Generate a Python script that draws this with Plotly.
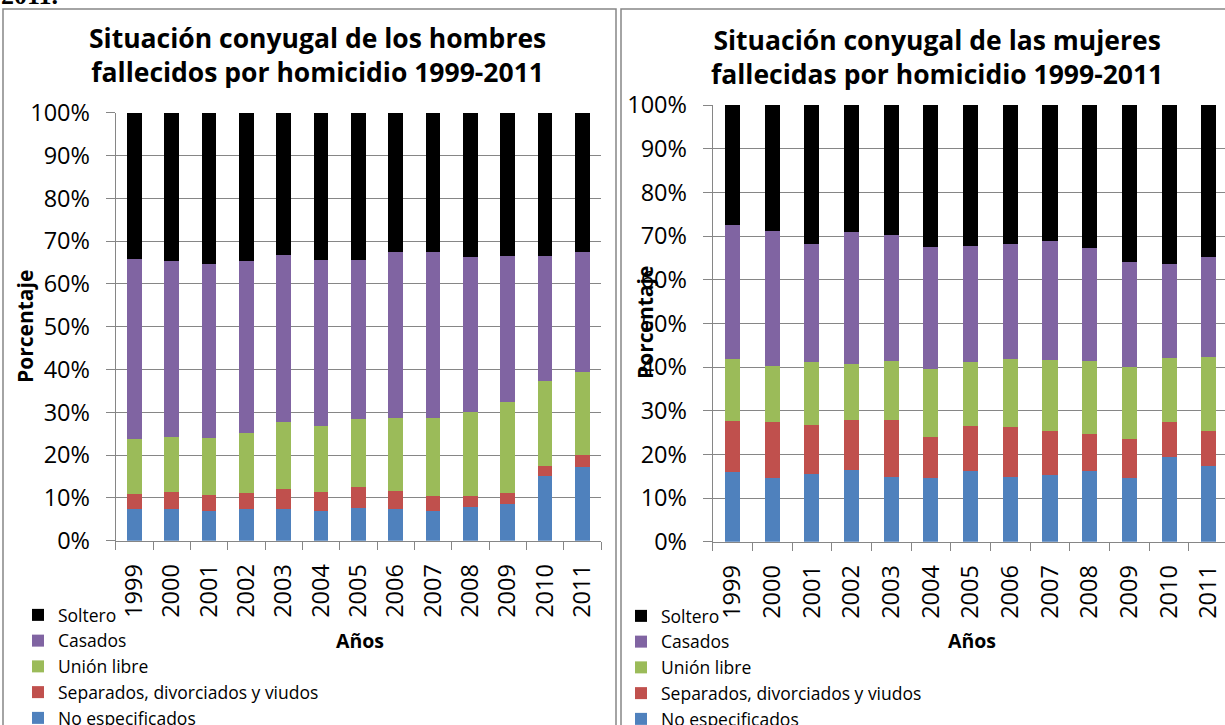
import plotly.graph_objects as go

W, H = 1225, 725

years = ["1999", "2000", "2001", "2002", "2003", "2004", "2005",
         "2006", "2007", "2008", "2009", "2010", "2011"]
series_names = ["No especificados", "Separados, divorciados y viudos",
                "Unión libre", "Casados", "Soltero"]
colors = ["#4F81BD", "#C0504D", "#9BBB59", "#8064A2", "#000000"]

# Hombres (%)
men_no_esp = [7.3, 7.3, 6.9, 7.3, 7.5, 7.0, 7.6, 7.3, 6.9, 7.8, 8.6, 15.0, 17.2]
men_separados = [3.6, 4.1, 3.8, 3.8, 4.6, 4.3, 4.9, 4.4, 3.5, 2.7, 2.5, 2.5, 2.8]
men_union = [12.8, 12.8, 13.3, 14.1, 15.6, 15.6, 16.0, 17.0, 18.2, 19.5, 21.3, 19.8, 19.3]
men_casados = [42.1, 41.1, 40.6, 40.2, 39.1, 38.6, 37.1, 38.8, 38.8, 36.3, 34.1, 29.2, 28.1]
men_soltero = [34.2, 34.7, 35.4, 34.6, 33.2, 34.5, 34.4, 32.5, 32.6, 33.7, 33.5, 33.5, 32.6]

# Mujeres (%)
wom_no_esp = [15.9, 14.7, 15.4, 16.4, 14.9, 14.6, 16.3, 14.9, 15.3, 16.3, 14.6, 19.5, 17.4]
wom_separados = [11.7, 12.7, 11.3, 11.5, 13.0, 9.4, 10.3, 11.3, 10.1, 8.4, 9.0, 7.8, 8.0]
wom_union = [14.3, 12.9, 14.4, 12.9, 13.5, 15.5, 14.5, 15.6, 16.1, 16.7, 16.4, 14.8, 16.8]
wom_casados = [30.7, 30.8, 27.0, 30.2, 28.8, 28.0, 26.5, 26.4, 27.4, 25.9, 24.0, 21.5, 23.1]
wom_soltero = [27.4, 28.9, 31.9, 29.0, 29.8, 32.5, 32.4, 31.8, 31.1, 32.7, 36.0, 36.4, 34.7]

men = [men_no_esp, men_separados, men_union, men_casados, men_soltero]
wom = [wom_no_esp, wom_separados, wom_union, wom_casados, wom_soltero]

FONT = "Open Sans"
GRID = "#868686"


def px(x):
    return x / W


def py(y):
    return 1 - y / H


fig = go.Figure()
for name, vals, c in zip(series_names, men, colors):
    fig.add_trace(go.Bar(x=years, y=vals, name=name, marker_color=c,
                         marker_line_width=0, width=0.40,
                         xaxis="x", yaxis="y", legend="legend"))
for name, vals, c in zip(series_names, wom, colors):
    fig.add_trace(go.Bar(x=years, y=vals, name=name, marker_color=c,
                         marker_line_width=0, width=0.38,
                         xaxis="x2", yaxis="y2", legend="legend2"))

xcommon = dict(type="category", showgrid=False, showline=True, linecolor=GRID,
               linewidth=1, ticks="outside", tickson="boundaries", ticklen=8,
               tickcolor=GRID, tickangle=-90, ticklabelstandoff=13,
               tickfont=dict(family=FONT, size=23.5, color="black"))
ycommon = dict(range=[0, 100], dtick=10, ticksuffix="%", showgrid=True,
               gridcolor=GRID, gridwidth=1, showline=True, linecolor=GRID,
               linewidth=1, ticks="outside", ticklen=9, tickcolor=GRID,
               ticklabelstandoff=11, zeroline=False,
               tickfont=dict(family=FONT, size=23.5, color="black"))

fig.update_layout(
    width=W, height=H, margin=dict(l=0, r=0, t=0, b=0, autoexpand=False),
    paper_bgcolor="white", plot_bgcolor="white", barmode="stack",
    xaxis=dict(domain=[px(115.7), px(601)], range=[-0.5, 12.5], anchor="y", **xcommon),
    yaxis=dict(domain=[py(540.7), py(112.7)], anchor="x", **ycommon),
    xaxis2=dict(domain=[px(712.7), 1.0], range=[-0.5, 12.41], anchor="y2", **xcommon),
    yaxis2=dict(domain=[py(541.7), py(105)], anchor="x2", **ycommon),
    legend=dict(x=px(18), y=py(597), xanchor="left", yanchor="top",
                traceorder="reversed", font=dict(family=FONT, size=17.5, color="black"),
                bgcolor="rgba(0,0,0,0)", tracegroupgap=0),
    legend2=dict(x=px(621), y=py(598), xanchor="left", yanchor="top",
                 traceorder="reversed", font=dict(family=FONT, size=17.5, color="black"),
                 bgcolor="rgba(0,0,0,0)", tracegroupgap=0),
    shapes=[
        dict(type="rect", xref="paper", yref="paper", x0=px(3), x1=px(616),
             y0=py(735), y1=py(9), line=dict(color=GRID, width=1.5)),
        dict(type="rect", xref="paper", yref="paper", x0=px(621), x1=px(1235),
             y0=py(735), y1=py(9), line=dict(color=GRID, width=1.5)),
    ],
    annotations=[
        dict(text="<b>Situación conyugal de los hombres<br>fallecidos por homicidio 1999-2011</b>",
             x=px(317), y=py(55), xref="paper", yref="paper", showarrow=False,
             xanchor="center", yanchor="middle",
             font=dict(family=FONT, size=26.5, color="black")),
        dict(text="<b>Situación conyugal de las mujeres<br>fallecidas por homicidio 1999-2011</b>",
             x=px(937), y=py(57), xref="paper", yref="paper", showarrow=False,
             xanchor="center", yanchor="middle",
             font=dict(family=FONT, size=26.5, color="black")),
        dict(text="<b>Porcentaje</b>", textangle=-90, x=px(25), y=py(327),
             xref="paper", yref="paper", showarrow=False,
             xanchor="center", yanchor="middle",
             font=dict(family=FONT, size=21, color="black")),
        dict(text="<b>Porcentaje</b>", textangle=-90, x=px(645), y=py(323),
             xref="paper", yref="paper", showarrow=False,
             xanchor="center", yanchor="middle",
             font=dict(family=FONT, size=21, color="black")),
        dict(text="<b>Años</b>", x=px(360), y=py(640), xref="paper", yref="paper",
             showarrow=False, xanchor="center", yanchor="middle",
             font=dict(family=FONT, size=19.5, color="black")),
        dict(text="<b>Años</b>", x=px(972), y=py(640), xref="paper", yref="paper",
             showarrow=False, xanchor="center", yanchor="middle",
             font=dict(family=FONT, size=19.5, color="black")),
        dict(text="<b>2011.</b>", x=px(60), y=py(12), xref="paper", yref="paper",
             showarrow=False, xanchor="right", yanchor="bottom",
             font=dict(family="Liberation Serif", size=26, color="black")),
    ],
)

fig.write_html("out.html", config={"displayModeBar": False},
               post_script="document.body.style.margin='0px';")
